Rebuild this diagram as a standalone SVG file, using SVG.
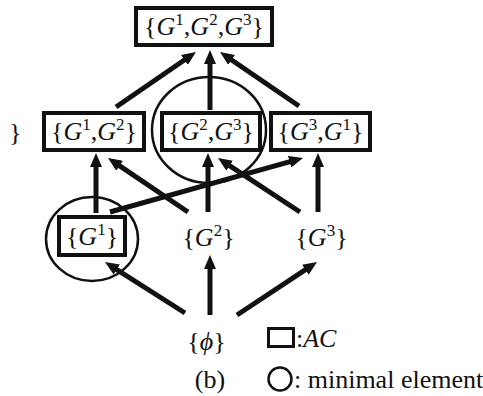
<svg xmlns="http://www.w3.org/2000/svg" width="483" height="396" viewBox="0 0 483 396">
<style>
text{font-family:"Liberation Serif","Times New Roman",serif;font-size:26px;fill:#111;}
.i{font-style:italic;}
.s{font-size:17px;}
.box{fill:#fff;stroke:#111;stroke-width:4;}
.ring{fill:none;stroke:#111;stroke-width:2.5;}
.edge{stroke:#111;stroke-width:5;fill:none;marker-end:url(#ah);}
</style>
<defs>
<marker id="ah" viewBox="0 0 14 12" refX="7" refY="6" markerWidth="14" markerHeight="12" markerUnits="userSpaceOnUse" orient="auto">
<path d="M0,0 L14,6 L0,12 z" fill="#111"/>
</marker>
</defs>
<g id="minimal-rings">
<ellipse class="ring" cx="209" cy="130" rx="57" ry="53"/>
<ellipse class="ring" cx="92" cy="239" rx="46" ry="42"/>
</g>
<g id="edges">
<line class="edge" x1="185" y1="313" x2="110.9" y2="265.8"/>
<line class="edge" x1="210" y1="315" x2="210" y2="262"/>
<line class="edge" x1="237" y1="315" x2="311.2" y2="265.9"/>
<line class="edge" x1="96" y1="213" x2="96" y2="160"/>
<line class="edge" x1="188" y1="212" x2="113.8" y2="161.9"/>
<line class="edge" x1="208" y1="212" x2="208" y2="160"/>
<line class="edge" x1="300" y1="212" x2="223.8" y2="161.8"/>
<line class="edge" x1="318" y1="212" x2="318" y2="160"/>
<line class="edge" x1="110" y1="212" x2="296.3" y2="159.9"/>
<line class="edge" x1="116" y1="107" x2="190.2" y2="56"/>
<line class="edge" x1="210" y1="110" x2="210" y2="57"/>
<line class="edge" x1="299" y1="106" x2="225.8" y2="56"/>
</g>
<g id="n-G123">
<rect class="box" x="136" y="8" width="136" height="37"/>
<text x="204" y="35" text-anchor="middle">{<tspan class="i">G</tspan><tspan class="s" dy="-10">1</tspan><tspan dy="10">,</tspan><tspan class="i">G</tspan><tspan class="s" dy="-10">2</tspan><tspan dy="10">,</tspan><tspan class="i">G</tspan><tspan class="s" dy="-10">3</tspan><tspan dy="10">}</tspan></text>
</g>
<g id="n-G12">
<rect class="box" x="44" y="113" width="100" height="37"/>
<text x="94" y="140" text-anchor="middle">{<tspan class="i">G</tspan><tspan class="s" dy="-10">1</tspan><tspan dy="10">,</tspan><tspan class="i">G</tspan><tspan class="s" dy="-10">2</tspan><tspan dy="10">}</tspan></text>
</g>
<g id="n-G23">
<rect class="box" x="162" y="113" width="98" height="37"/>
<text x="211" y="140" text-anchor="middle">{<tspan class="i">G</tspan><tspan class="s" dy="-10">2</tspan><tspan dy="10">,</tspan><tspan class="i">G</tspan><tspan class="s" dy="-10">3</tspan><tspan dy="10">}</tspan></text>
</g>
<g id="n-G31">
<rect class="box" x="271" y="113" width="99" height="37"/>
<text x="320.5" y="140" text-anchor="middle">{<tspan class="i">G</tspan><tspan class="s" dy="-10">3</tspan><tspan dy="10">,</tspan><tspan class="i">G</tspan><tspan class="s" dy="-10">1</tspan><tspan dy="10">}</tspan></text>
</g>
<g id="n-stray">
<text x="9" y="141">}</text>
</g>
<g id="n-G1">
<rect class="box" x="59" y="217" width="66" height="38"/>
<text x="92" y="245" text-anchor="middle">{<tspan class="i">G</tspan><tspan class="s" dy="-10">1</tspan><tspan dy="10">}</tspan></text>
</g>
<g id="n-G2">
<text x="208.5" y="246" text-anchor="middle">{<tspan class="i">G</tspan><tspan class="s" dy="-10">2</tspan><tspan dy="10">}</tspan></text>
</g>
<g id="n-G3">
<text x="321.5" y="246" text-anchor="middle">{<tspan class="i">G</tspan><tspan class="s" dy="-10">3</tspan><tspan dy="10">}</tspan></text>
</g>
<g id="n-empty">
<text x="206.5" y="350" text-anchor="middle">{<tspan class="i">ϕ</tspan>}</text>
</g>
<g id="legend">
<rect x="268.5" y="328.5" width="25" height="18" fill="none" stroke="#111" stroke-width="3"/>
<text x="296" y="347">:<tspan class="i">AC</tspan></text>
<circle cx="280" cy="379" r="11.5" fill="none" stroke="#111" stroke-width="2.5"/>
<text x="294" y="388">: minimal element</text>
<text x="210" y="388" text-anchor="middle">(b)</text>
</g>
</svg>
